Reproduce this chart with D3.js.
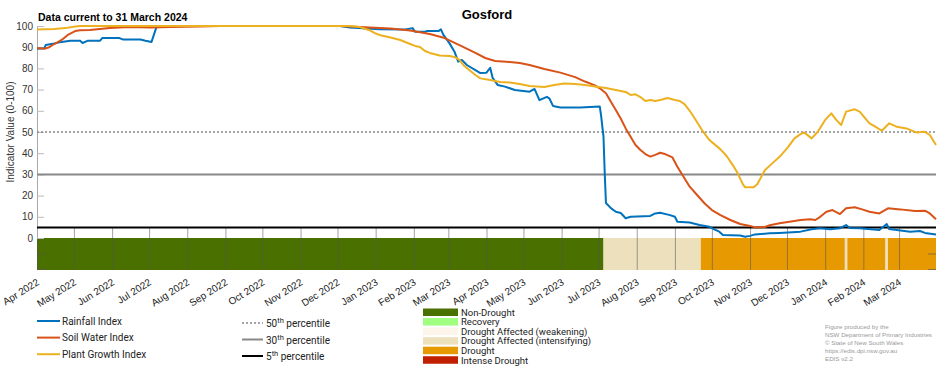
<!DOCTYPE html>
<html>
<head>
<meta charset="utf-8">
<script src="https://cdn.jsdelivr.net/npm/d3@7"></script>
<style>
body { margin: 0; background: #fff; }
svg { font-family: "Liberation Sans", Arial, sans-serif; }
</style>
</head>
<body>
<div id="chart"></div>
<script>
// values
const rainfallIndex = [
  ["2022-04-01", 89.3], ["2022-04-07", 89.5], ["2022-04-08", 91], ["2022-04-15", 91.7], ["2022-04-21", 92.5],
  ["2022-04-28", 93], ["2022-05-06", 93], ["2022-05-08", 92], ["2022-05-12", 93], ["2022-05-22", 93],
  ["2022-05-24", 94.3], ["2022-06-07", 94.3], ["2022-06-10", 93.6], ["2022-06-24", 93.6], ["2022-06-28", 93],
  ["2022-07-03", 92.5], ["2022-07-07", 99.5], ["2022-07-14", 100], ["2022-12-03", 100], ["2022-12-11", 99.3],
  ["2023-01-04", 98.5], ["2023-01-25", 98.3], ["2023-01-31", 99], ["2023-02-02", 97.3], ["2023-02-10", 97.3],
  ["2023-02-12", 97.6], ["2023-02-21", 97.6], ["2023-02-23", 98.4], ["2023-02-25", 95.8], ["2023-03-02", 91.8],
  ["2023-03-06", 87.9], ["2023-03-09", 83.2], ["2023-03-12", 84], ["2023-03-16", 81.6], ["2023-03-23", 79.2],
  ["2023-03-27", 77.8], ["2023-04-01", 78], ["2023-04-04", 80.3], ["2023-04-06", 75.5], ["2023-04-10", 72.2],
  ["2023-04-16", 71.4], ["2023-04-24", 69.8], ["2023-05-06", 69], ["2023-05-10", 70.3], ["2023-05-14", 65],
  ["2023-05-20", 66.6], ["2023-05-22", 65.9], ["2023-05-25", 62.3], ["2023-05-31", 61.6], ["2023-06-16", 61.5],
  ["2023-07-02", 62], ["2023-07-03", 58], ["2023-07-05", 47.8], ["2023-07-06", 30.6], ["2023-07-07", 16.5],
  ["2023-07-11", 14.1], ["2023-07-15", 12.4], ["2023-07-19", 11.8], ["2023-07-23", 9.3], ["2023-07-27", 10],
  ["2023-08-12", 10.4], ["2023-08-16", 11.6], ["2023-08-20", 11.9], ["2023-08-28", 10.8], ["2023-09-01", 10],
  ["2023-09-03", 7.7], ["2023-09-13", 7.3], ["2023-09-21", 6.1], ["2023-09-29", 5.3], ["2023-10-03", 4.1],
  ["2023-10-07", 3], ["2023-10-10", 1.4], ["2023-10-24", 1.2], ["2023-10-28", 0.6], ["2023-11-01", 1],
  ["2023-11-05", 1.7], ["2023-11-17", 2.2], ["2023-11-25", 2.4], ["2023-12-12", 3], ["2023-12-21", 4.1],
  ["2023-12-28", 4.6], ["2024-01-05", 4.1], ["2024-01-13", 4.6], ["2024-01-18", 6.1], ["2024-01-21", 4.7],
  ["2024-01-29", 4.6], ["2024-02-14", 3.8], ["2024-02-20", 6.6], ["2024-02-22", 4.2], ["2024-03-10", 3],
  ["2024-03-18", 3.3], ["2024-03-22", 2.4], ["2024-03-31", 1.7]
];

const soilWaterIndex = [
  ["2022-04-01", 89.6], ["2022-04-07", 89.3], ["2022-04-11", 90], ["2022-04-15", 91.5], ["2022-04-21", 93.4],
  ["2022-04-26", 95.8], ["2022-05-02", 97.6], ["2022-05-06", 98], ["2022-05-14", 98.1], ["2022-05-22", 98.6],
  ["2022-05-30", 99], ["2022-06-15", 99.5], ["2022-07-02", 99.3], ["2022-07-18", 99.5], ["2022-08-11", 99.8],
  ["2022-08-28", 100], ["2022-12-03", 100], ["2022-12-11", 99.8], ["2022-12-27", 99.3], ["2023-01-13", 98.8],
  ["2023-01-29", 97.9], ["2023-02-14", 96.2], ["2023-02-26", 94.3], ["2023-03-10", 91], ["2023-03-23", 87.3],
  ["2023-03-31", 84.9], ["2023-04-08", 83.5], ["2023-04-20", 83], ["2023-04-28", 82.5], ["2023-05-06", 81.6],
  ["2023-05-18", 79.7], ["2023-05-31", 78], ["2023-06-12", 75.9], ["2023-06-20", 73.8], ["2023-06-28", 72],
  ["2023-07-02", 70.6], ["2023-07-07", 68.3], ["2023-07-11", 64.3], ["2023-07-15", 60.4], ["2023-07-19", 56.4],
  ["2023-07-23", 51.7], ["2023-07-27", 47.8], ["2023-07-31", 43.9], ["2023-08-04", 41.5], ["2023-08-08", 39.6],
  ["2023-08-12", 38.4], ["2023-08-16", 39.2], ["2023-08-20", 40.2], ["2023-08-24", 39.6], ["2023-08-30", 38],
  ["2023-09-03", 33.6], ["2023-09-08", 28.9], ["2023-09-13", 24.2], ["2023-09-19", 20.3], ["2023-09-25", 16.4],
  ["2023-10-01", 13.2], ["2023-10-08", 10.8], ["2023-10-16", 8.5], ["2023-10-24", 6.6], ["2023-11-01", 5.7],
  ["2023-11-05", 5], ["2023-11-13", 5.2], ["2023-11-17", 6], ["2023-11-25", 7], ["2023-12-03", 7.7],
  ["2023-12-12", 8.5], ["2023-12-20", 8.8], ["2023-12-24", 8.5], ["2023-12-28", 10], ["2024-01-02", 12.4],
  ["2024-01-07", 13.2], ["2024-01-13", 11.3], ["2024-01-18", 14], ["2024-01-25", 14.5], ["2024-01-31", 13.5],
  ["2024-02-06", 12.4], ["2024-02-14", 11.6], ["2024-02-21", 14], ["2024-03-02", 13.5], ["2024-03-14", 12.7],
  ["2024-03-22", 12.9], ["2024-03-26", 11.6], ["2024-03-31", 8.8]
];

const plantGrowthIndex = [
  ["2022-04-01", 98.3], ["2022-04-15", 98.6], ["2022-04-24", 99], ["2022-05-02", 99.8], ["2022-05-06", 100],
  ["2022-12-11", 100], ["2022-12-19", 99.5], ["2022-12-27", 98], ["2022-12-31", 96.7], ["2023-01-04", 95.8],
  ["2023-01-13", 94.6], ["2023-01-21", 93.4], ["2023-01-29", 91.5], ["2023-02-02", 90.6], ["2023-02-06", 90.1],
  ["2023-02-10", 88.2], ["2023-02-14", 87.3], ["2023-02-22", 86.1], ["2023-03-02", 85.8], ["2023-03-06", 85.4],
  ["2023-03-10", 84], ["2023-03-14", 81.1], ["2023-03-18", 79.2], ["2023-03-23", 76.9], ["2023-03-27", 75.3],
  ["2023-04-04", 74.5], ["2023-04-12", 73.6], ["2023-04-20", 73.3], ["2023-04-28", 72.6], ["2023-05-06", 71.7],
  ["2023-05-18", 71.2], ["2023-05-26", 72.2], ["2023-06-03", 72.9], ["2023-06-12", 72.6], ["2023-06-20", 72.2],
  ["2023-06-28", 71.5], ["2023-07-07", 70.8], ["2023-07-15", 69.8], ["2023-07-23", 68.9], ["2023-07-27", 67.5],
  ["2023-07-31", 67.8], ["2023-08-04", 66.5], ["2023-08-08", 64.6], ["2023-08-12", 65.1], ["2023-08-16", 64.6],
  ["2023-08-20", 65.1], ["2023-08-26", 66], ["2023-09-01", 65.1], ["2023-09-05", 64.6], ["2023-09-09", 63],
  ["2023-09-13", 60], ["2023-09-17", 56.5], ["2023-09-23", 50.9], ["2023-09-29", 46.2], ["2023-10-08", 41.8],
  ["2023-10-13", 38.7], ["2023-10-18", 34.4], ["2023-10-22", 30.5], ["2023-10-26", 25.5], ["2023-10-28", 23.9],
  ["2023-11-04", 23.9], ["2023-11-07", 25.5], ["2023-11-13", 32], ["2023-11-19", 35.2], ["2023-11-25", 38.3],
  ["2023-12-02", 43], ["2023-12-07", 47], ["2023-12-12", 49], ["2023-12-15", 49.8], ["2023-12-21", 47],
  ["2023-12-26", 50.1], ["2024-01-01", 55.7], ["2024-01-06", 58.8], ["2024-01-10", 55.7], ["2024-01-14", 53.3],
  ["2024-01-18", 59.6], ["2024-01-25", 60.7], ["2024-01-29", 59.6], ["2024-02-06", 54.1], ["2024-02-10", 52.8],
  ["2024-02-16", 50.6], ["2024-02-22", 54.1], ["2024-02-28", 52.5], ["2024-03-07", 51.7], ["2024-03-15", 49.8],
  ["2024-03-22", 50.1], ["2024-03-26", 48.6], ["2024-03-31", 43.9]
];

const seriesNames = ["Rainfall Index", "Soil Water Index", "Plant Growth Index"];
const percentileValues = [50, 30, 5];
const droughtCategories = ["Non-Drought", "Recovery", "Drought Affected (weakening)",
  "Drought Affected (intensifying)", "Drought", "Intense Drought"];
const droughtPeriods = [
  ["2022-04-01", "2023-07-05", "Non-Drought"],
  ["2023-07-05", "2023-09-22", "Drought Affected (intensifying)"],
  ["2023-09-22", "2024-01-17", "Drought"],
  ["2024-01-17", "2024-01-19", "Drought Affected (intensifying)"],
  ["2024-01-19", "2024-02-19", "Drought"],
  ["2024-02-19", "2024-02-21", "Drought Affected (intensifying)"],
  ["2024-02-21", "2024-03-31", "Drought"]
];
const yTicks = [0, 10, 20, 30, 40, 50, 60, 70, 80, 90, 100];
const credits = ["Figure produced by the", "NSW Department of Primary Industries",
  "\u00A9 State of New South Wales", "https://edis.dpi.nsw.gov.au", "EDIS v2.2"];

const seriesColors = ["#0072bd", "#d95319", "#edb120"];
const percentileStyle = [
  {stroke: "#888", width: 1.6, dash: "2,2"},
  {stroke: "#888", width: 2, dash: null},
  {stroke: "#000", width: 2, dash: null}
];
const categoryColors = ["#4a7000", "#a0ff80", "#fdf5ea", "#ede1bd", "#e69900", "#c02000"];

const chartW = 952, chartH = 370;
const plotL = 37, plotR = 936, plotT = 26, zeroY = 238, barBottom = 270;

const parse = d3.timeParse("%Y-%m-%d");
const catColor = d3.scaleOrdinal().domain(droughtCategories).range(categoryColors);

const svg = d3.select("#chart").append("svg")
  .attr("width", chartW)
  .attr("height", chartH);

const x = d3.scaleTime()
  .domain([parse("2022-04-01"), parse("2024-03-31")])
  .range([plotL, plotR]);
const y = d3.scaleLinear()
  .domain([0, 100])
  .range([zeroY, plotT]);

// drought category bar
svg.append("g").selectAll("rect")
  .data(droughtPeriods)
  .enter().append("rect")
  .attr("x", d => x(parse(d[0])))
  .attr("y", zeroY)
  .attr("width", d => x(parse(d[1])) - x(parse(d[0])))
  .attr("height", barBottom - zeroY)
  .attr("fill", d => catColor(d[2]));

// month ticks through the bar and up into the plot
const months = d3.timeMonth.range(parse("2022-04-01"), parse("2024-04-01"));
const xAxis = svg.append("g")
  .attr("transform", `translate(0, ${barBottom})`)
  .call(d3.axisBottom(x).tickValues(months).tickSize(-(barBottom - zeroY + 10)).tickFormat(""));
xAxis.select(".domain").remove();
xAxis.selectAll("line").attr("stroke", "#555").attr("stroke-opacity", 0.55);

// small ticks on the bar edges
[plotL, plotR].forEach((px, i) => {
  [254, barBottom - 0.5].forEach(py => {
    svg.append("line")
      .attr("x1", px).attr("x2", i === 0 ? px + 8 : px - 8)
      .attr("y1", py).attr("y2", py)
      .attr("stroke", "#555").attr("stroke-opacity", 0.6);
  });
});

svg.selectAll(".xlabel")
  .data(months)
  .enter().append("text")
  .attr("class", "xlabel")
  .attr("transform", d => `translate(${x(d) + 3}, 284) rotate(-32)`)
  .attr("text-anchor", "end")
  .attr("font-size", 10)
  .attr("fill", "#222")
  .text(d3.timeFormat("%b %Y"));

// y axis
const yAxis = svg.append("g")
  .attr("transform", `translate(${plotL}, 0)`)
  .call(d3.axisRight(y).tickValues(yTicks).tickSize(7).tickFormat(""));
yAxis.select(".domain").attr("stroke", "#aaa");
yAxis.selectAll("line").attr("stroke", "#bbb");

svg.selectAll(".ylabel")
  .data(yTicks)
  .enter().append("text")
  .attr("class", "ylabel")
  .attr("x", plotL - 4)
  .attr("y", d => y(d) + 3.5)
  .attr("text-anchor", "end")
  .attr("font-size", 10)
  .attr("fill", "#333")
  .text(d => d);

svg.append("text")
  .attr("transform", `translate(14, ${(plotT + zeroY) / 2}) rotate(-90)`)
  .attr("text-anchor", "middle")
  .attr("font-size", 10)
  .attr("fill", "#333")
  .text("Indicator Value (0-100)");

// percentile reference lines
svg.append("g").selectAll("line")
  .data(percentileValues)
  .enter().append("line")
  .attr("x1", plotL).attr("x2", plotR)
  .attr("y1", d => y(d)).attr("y2", d => y(d))
  .attr("stroke", (d, i) => percentileStyle[i].stroke)
  .attr("stroke-width", (d, i) => percentileStyle[i].width)
  .attr("stroke-dasharray", (d, i) => percentileStyle[i].dash);

// index lines
const line = d3.line()
  .x(d => x(parse(d[0])))
  .y(d => y(d[1]));

[rainfallIndex, soilWaterIndex, plantGrowthIndex].forEach((series, i) => {
  svg.append("path")
    .datum(series)
    .attr("fill", "none")
    .attr("stroke", seriesColors[i])
    .attr("stroke-width", 2)
    .attr("stroke-linejoin", "round")
    .attr("d", line);
});

// titles
svg.append("text")
  .attr("x", 487).attr("y", 19)
  .attr("text-anchor", "middle")
  .attr("font-size", 13).attr("font-weight", "bold")
  .text("Gosford");
svg.append("text")
  .attr("x", 38).attr("y", 21)
  .attr("font-size", 10.5).attr("font-weight", "bold")
  .text("Data current to 31 March 2024");

// legend: indices
const lg = svg.append("g").attr("font-family", "Roboto, sans-serif").attr("font-size", 10).attr("fill", "#222");
seriesNames.forEach((name, i) => {
  const ly = 321 + i * 16.6;
  lg.append("line").attr("x1", 37).attr("x2", 60).attr("y1", ly).attr("y2", ly)
    .attr("stroke", seriesColors[i]).attr("stroke-width", 2);
  lg.append("text").attr("x", 62).attr("y", ly + 3.5).text(name);
});

// legend: percentiles
percentileValues.forEach((p, i) => {
  const ly = 323 + i * 16.5;
  lg.append("line").attr("x1", 242).attr("x2", 263).attr("y1", ly).attr("y2", ly)
    .attr("stroke", percentileStyle[i].stroke)
    .attr("stroke-width", percentileStyle[i].width)
    .attr("stroke-dasharray", percentileStyle[i].dash);
  const t = lg.append("text").attr("x", 266).attr("y", ly + 4);
  t.append("tspan").text(p);
  t.append("tspan").attr("dy", -4).attr("font-size", 7.5).text("th");
  t.append("tspan").attr("dy", 4).text(" percentile");
});

// legend: drought categories
droughtCategories.forEach((c, i) => {
  const by = 308.5 + i * 9.55;
  lg.append("rect").attr("x", 423).attr("y", by).attr("width", 35).attr("height", 7.5)
    .attr("fill", catColor(c));
  lg.append("text").attr("x", 461).attr("y", by + 7.3).attr("font-size", 9.5).text(c);
});

// credits
svg.append("g").selectAll("text")
  .data(credits)
  .enter().append("text")
  .attr("x", 825)
  .attr("y", (d, i) => 329 + i * 8.1)
  .attr("font-size", 6.2)
  .attr("fill", "#999")
  .text(d => d);
</script>
</body>
</html>
